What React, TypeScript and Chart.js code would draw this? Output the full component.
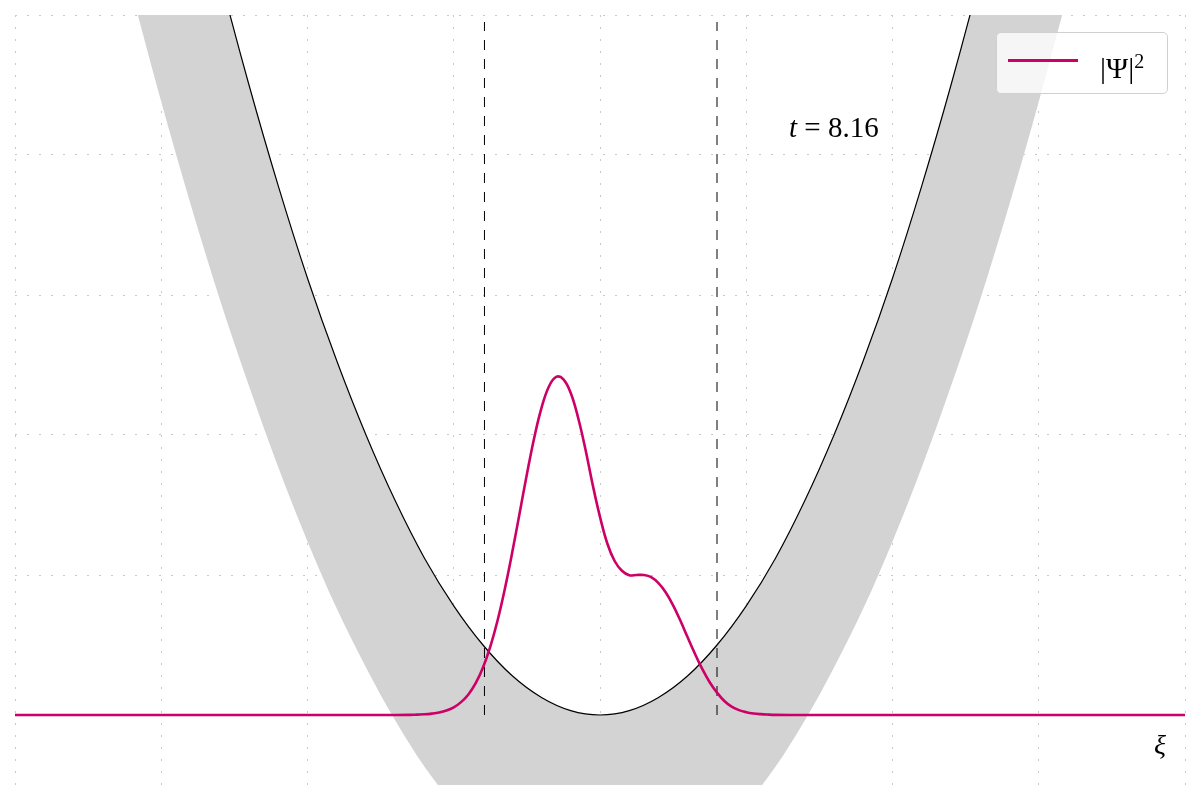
import { useEffect, useRef } from "react";
import { Chart, registerables } from "chart.js";

Chart.register(...registerables);

// |Psi|^2
const waveXi = [-4, -1.4, -1.3, -1.25, -1.2, -1.15, -1.1, -1.05, -1.0, -0.95, -0.9, -0.85, -0.8, -0.75, -0.7, -0.65, -0.6, -0.55, -0.5, -0.45, -0.4, -0.35, -0.3, -0.25, -0.2, -0.15, -0.1, -0.05, 0, 0.05, 0.1, 0.15, 0.2, 0.25, 0.3, 0.35, 0.4, 0.45, 0.5, 0.55, 0.6, 0.65, 0.7, 0.75, 0.8, 0.85, 0.9, 0.95, 1.0, 1.05, 1.1, 1.15, 1.2, 1.3, 4];
const waveDensity = [0, 0, 0.001, 0.003, 0.005, 0.01, 0.018, 0.032, 0.055, 0.092, 0.147, 0.228, 0.34, 0.489, 0.677, 0.904, 1.162, 1.44, 1.719, 1.979, 2.194, 2.345, 2.415, 2.398, 2.3, 2.125, 1.9, 1.645, 1.415, 1.225, 1.1, 1.03, 0.998, 1.0, 1.0, 0.985, 0.942, 0.875, 0.783, 0.673, 0.553, 0.436, 0.327, 0.234, 0.16, 0.1, 0.06, 0.035, 0.02, 0.011, 0.006, 0.003, 0.001, 0, 0];

// potential and the grey band under it
const potentialXi = [-3.4, -3.2, -3.0, -2.8, -2.6, -2.4, -2.2, -2.0, -1.8, -1.6, -1.4, -1.2, -1.0, -0.8, -0.6, -0.4, -0.2, 0, 0.2, 0.4, 0.6, 0.8, 1.0, 1.2, 1.4, 1.6, 1.8, 2.0, 2.2, 2.4, 2.6, 2.8, 3.0, 3.2, 3.4];
const potentialV = [9.03, 8.0, 7.03, 6.12, 5.28, 4.5, 3.78, 3.12, 2.53, 2.0, 1.53, 1.12, 0.78, 0.5, 0.28, 0.125, 0.031, 0, 0.031, 0.125, 0.28, 0.5, 0.78, 1.12, 1.53, 2.0, 2.53, 3.12, 3.78, 4.5, 5.28, 6.12, 7.03, 8.0, 9.03];
const bandLower = [5.99, 5.16, 4.38, 3.65, 2.97, 2.35, 1.77, 1.24, 0.76, 0.34, -0.04, -0.37, -0.64, -0.87, -1.05, -1.17, -1.25, -1.27, -1.25, -1.17, -1.05, -0.87, -0.64, -0.37, -0.04, 0.34, 0.76, 1.24, 1.77, 2.35, 2.97, 3.65, 4.38, 5.16, 5.99];

const turningPoints = [-0.79, 0.8];
const dashTop = 4.95;

const MAGENTA = "#cc0066";

export default function App() {
  const canvasRef = useRef<HTMLCanvasElement>(null);

  useEffect(() => {
    document.body.style.margin = "0";
    if (!canvasRef.current) return;

    const band = potentialXi.map((x, i) => ({ x, y: bandLower[i] }));
    const potential = potentialXi.map((x, i) => ({ x, y: potentialV[i] }));
    const wave = waveXi.map((x, i) => ({ x, y: waveDensity[i] }));

    const dashed = turningPoints.map((tp) => ({
      data: [
        { x: tp, y: 0 },
        { x: tp, y: dashTop },
      ],
      borderColor: "#000",
      borderWidth: 1,
      borderDash: [10, 9],
      pointRadius: 0,
      fill: false,
      order: 3,
    }));

    const chart = new Chart(canvasRef.current, {
      type: "line",
      data: {
        datasets: [
          {
            data: wave,
            borderColor: MAGENTA,
            borderWidth: 2.6,
            pointRadius: 0,
            tension: 0.4,
            fill: false,
            order: 1,
          },
          {
            data: potential,
            borderColor: "#000",
            borderWidth: 1.2,
            pointRadius: 0,
            cubicInterpolationMode: "monotone",
            fill: false,
            order: 4,
          },
          {
            data: band,
            borderWidth: 0,
            borderColor: "rgba(0,0,0,0)",
            backgroundColor: "#d3d3d3",
            pointRadius: 0,
            cubicInterpolationMode: "monotone",
            fill: { target: 1 },
            order: 5,
          },
          ...dashed,
        ] as any,
      },
      options: {
        responsive: true,
        maintainAspectRatio: false,
        animation: false,
        layout: { padding: { left: 15, right: 15, top: 15, bottom: 15 } },
        scales: {
          x: {
            type: "linear",
            min: -4,
            max: 4,
            ticks: { display: false, stepSize: 1 },
            grid: { color: "#c8c8c8", lineWidth: 1, drawTicks: false },
            border: { display: false, dash: [2, 10] },
          },
          y: {
            type: "linear",
            min: -0.5,
            max: 5,
            afterBuildTicks: (scale: any) => {
              scale.ticks = scale.ticks.filter((t: any) => t.value >= 0);
            },
            ticks: { display: false, stepSize: 1 },
            grid: { color: "#c8c8c8", lineWidth: 1, drawTicks: false },
            border: { display: false, dash: [2, 10] },
          },
        },
        plugins: { legend: { display: false }, tooltip: { enabled: false } },
      },
    });

    return () => chart.destroy();
  }, []);

  const serif = "'Liberation Serif', 'DejaVu Serif', serif";

  return (
    <div style={{ position: "relative", width: 1200, height: 800, background: "#fff" }}>
      <canvas ref={canvasRef} />
      <div
        style={{
          position: "absolute",
          left: 996,
          top: 32,
          width: 170,
          height: 60,
          border: "1px solid #d0d0d0",
          borderRadius: 5,
          background: "rgba(255,255,255,0.8)",
        }}
      >
        <div style={{ position: "absolute", left: 11, top: 26, width: 70, height: 3, background: MAGENTA }} />
        <div style={{ position: "absolute", left: 103, top: 8, fontFamily: serif, fontSize: 30, lineHeight: "40px", color: "#000" }}>
          |Ψ|<sup style={{ fontSize: 20, verticalAlign: "10px" }}>2</sup>
        </div>
      </div>
      <div style={{ position: "absolute", left: 789, top: 110, fontFamily: serif, fontSize: 29, lineHeight: "34px", color: "#000" }}>
        <i>t</i> = 8.16
      </div>
      <div style={{ position: "absolute", left: 1154, top: 728, fontFamily: serif, fontSize: 28, lineHeight: "34px", color: "#000" }}>
        <i>ξ</i>
      </div>
    </div>
  );
}
